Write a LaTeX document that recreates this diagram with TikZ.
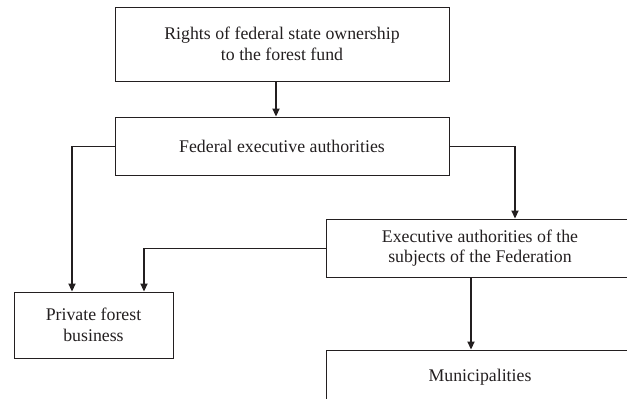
\documentclass[tikz,border=0pt]{standalone}
\usepackage{fontspec}
\setmainfont{Liberation Serif}
\usetikzlibrary{arrows.meta}
\definecolor{ink}{HTML}{231F20}
\begin{document}
\begin{tikzpicture}[x=1pt,y=-1pt,
  box/.style={draw=ink,line width=0.9pt,rectangle,inner sep=0pt,align=center,
    font=\fontsize{17.8}{20.5}\selectfont,text=ink},
  feed/.style={draw=ink,line width=0.9pt},
  flow/.style={draw=ink,line width=1.8pt,-{Triangle[length=8pt,width=7pt]}}]
\clip (0,0) rectangle (627,399);
\useasboundingbox (0,0) rectangle (627,399);
% boxes
\node[box,minimum width=334pt,minimum height=74pt] (rights) at (282,44)
  {Rights of federal state ownership\\to the forest fund};
\node[box,minimum width=334pt,minimum height=58pt] (fed) at (282,146)
  {Federal executive authorities};
\node[box,minimum width=308pt,minimum height=58pt] (subj) at (480,248)
  {Executive authorities of the\\subjects of the Federation};
\node[box,minimum width=159pt,minimum height=66pt] (priv) at (93.5,325)
  {Private forest\\business};
\node[box,minimum width=308pt,minimum height=54pt] (muni) at (480,377)
  {Municipalities};
% bend points
\coordinate (cl) at (72,146);
\coordinate (cr) at (515,146);
\coordinate (cs) at (144,248);
% connectors
\draw[flow] (rights.south -| 276,0) -- (fed.north -| 276,0);
\draw[feed] (fed.west) -- (cl);
\draw[flow] (cl) -- (cl |- priv.north);
\draw[feed] (fed.east) -- (cr);
\draw[flow] (cr) -- (cr |- subj.north);
\draw[feed] (subj.west) -- (cs);
\draw[flow] (cs) -- (cs |- priv.north);
\draw[flow] (subj.south -| 471,0) -- (muni.north -| 471,0);
\end{tikzpicture}
\end{document}
